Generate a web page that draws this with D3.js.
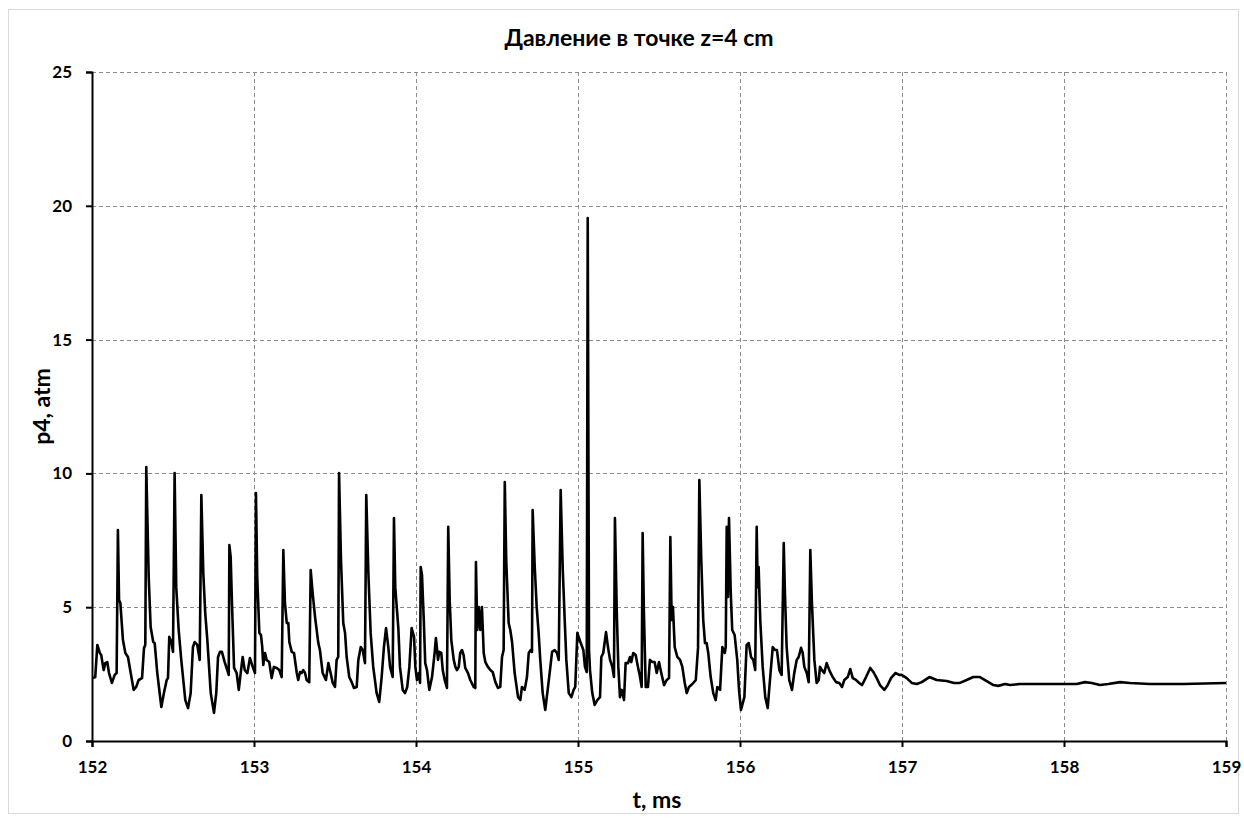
<!DOCTYPE html>
<html>
<head>
<meta charset="utf-8">
<script src="https://cdn.jsdelivr.net/npm/d3@7/dist/d3.min.js"></script>
<style>
  html, body { margin: 0; padding: 0; background: #fff; }
  svg { display: block; font-family: Lato, "Open Sans", "DejaVu Sans", sans-serif; }
</style>
</head>
<body>
<svg id="chart" width="1244" height="819"></svg>
<script>
// Pressure trace p4 at z = 4 cm
const timeMs = [
  152.006,152.020,152.033,152.048,152.057,152.072,152.082,152.094,152.105,152.123,
  152.140,152.152,152.160,152.167,152.175,152.191,152.206,152.222,152.239,152.257,
  152.273,152.288,152.309,152.321,152.329,152.335,152.350,152.362,152.378,152.387,
  152.403,152.428,152.444,152.461,152.469,152.477,152.490,152.500,152.510,152.520,
  152.535,152.551,152.576,152.593,152.609,152.623,152.634,152.650,152.665,152.675,
  152.687,152.699,152.712,152.733,152.753,152.767,152.778,152.790,152.802,152.819,
  152.835,152.844,152.848,152.856,152.864,152.877,152.893,152.906,152.918,152.930,
  152.943,152.959,152.975,152.992,153.006,153.012,153.020,153.033,153.043,153.051,
  153.057,153.068,153.078,153.094,153.109,153.123,153.140,153.156,153.171,153.181,
  153.191,153.202,153.212,153.218,153.233,153.247,153.264,153.273,153.284,153.294,
  153.304,153.315,153.325,153.341,153.350,153.362,153.377,153.397,153.407,153.424,
  153.444,153.459,153.473,153.486,153.500,153.510,153.520,153.525,153.537,153.551,
  153.562,153.572,153.588,153.603,153.617,153.634,153.644,153.659,153.671,153.685,
  153.693,153.706,153.720,153.736,153.757,153.773,153.788,153.802,153.815,153.829,
  153.840,153.856,153.864,153.872,153.881,153.891,153.901,153.918,153.932,153.946,
  153.959,153.973,153.988,153.996,154.006,154.017,154.025,154.029,154.037,154.048,
  154.057,154.068,154.082,154.099,154.115,154.123,154.136,154.144,154.156,154.165,
  154.177,154.191,154.199,154.208,154.218,154.233,154.243,154.253,154.264,154.273,
  154.284,154.294,154.304,154.321,154.335,154.356,154.366,154.370,154.378,154.387,
  154.397,154.407,154.418,154.428,154.444,154.459,154.473,154.490,154.506,154.520,
  154.531,154.541,154.548,154.557,154.572,154.582,154.593,154.609,154.630,154.644,
  154.654,154.671,154.685,154.696,154.708,154.716,154.720,154.733,154.745,154.757,
  154.767,154.782,154.798,154.815,154.825,154.840,154.856,154.870,154.881,154.893,
  154.906,154.918,154.928,154.943,154.959,154.973,154.983,154.996,155.017,155.033,
  155.043,155.054,155.060,155.068,155.074,155.088,155.103,155.119,155.136,155.144,
  155.156,155.173,155.185,155.198,155.212,155.222,155.228,155.239,155.249,155.259,
  155.270,155.284,155.294,155.309,155.321,155.329,155.341,155.356,155.370,155.383,
  155.393,155.399,155.407,155.418,155.432,155.444,155.459,155.473,155.486,155.500,
  155.514,155.531,155.548,155.562,155.570,155.578,155.586,155.597,155.613,155.630,
  155.644,155.659,155.671,155.685,155.706,155.727,155.741,155.749,155.761,155.773,
  155.784,155.794,155.804,155.819,155.835,155.850,155.860,155.877,155.891,155.906,
  155.912,155.918,155.926,155.932,155.943,155.952,155.967,155.983,155.994,156.006,
  156.027,156.041,156.054,156.068,156.082,156.094,156.103,156.109,156.115,156.125,
  156.140,156.156,156.171,156.185,156.202,156.216,156.228,156.243,156.257,156.270,
  156.278,156.288,156.304,156.321,156.335,156.350,156.362,156.377,156.387,156.397,
  156.412,156.424,156.434,156.444,156.459,156.473,156.486,156.494,156.506,156.520,
  156.535,156.551,156.572,156.593,156.613,156.630,156.644,156.665,156.681,156.696,
  156.716,156.736,156.753,156.778,156.804,156.823,156.844,156.864,156.891,156.912,
  156.932,156.959,156.983,156.998,157.029,157.060,157.091,157.122,157.169,157.214,
  157.276,157.321,157.358,157.399,157.440,157.481,157.523,157.564,157.594,157.636,
  157.667,157.728,157.810,157.914,158.017,158.078,158.130,158.171,158.222,158.273,
  158.346,158.407,158.531,158.736,159.000
];

const pressureAtm = [
  2.35,2.39,3.59,3.29,3.21,2.65,2.91,2.95,2.54,2.17,
  2.47,2.54,7.88,5.27,5.16,3.77,3.29,3.14,2.54,1.91,
  2.02,2.28,2.35,3.48,3.59,10.24,6.13,4.26,3.70,3.66,
  2.54,1.27,1.79,2.28,2.35,3.89,3.70,3.33,10.01,5.75,
  4.15,3.03,1.53,1.23,1.79,3.51,3.70,3.59,3.03,9.19,
  6.28,4.78,3.77,1.79,1.05,1.79,3.14,3.33,3.33,2.95,
  2.65,2.47,7.32,6.88,5.16,2.73,2.54,1.91,2.54,3.14,
  2.65,2.54,3.10,2.77,2.54,9.27,6.13,4.04,3.96,3.51,
  2.84,3.29,3.03,2.95,2.35,2.77,2.73,2.65,2.39,7.14,
  5.16,4.41,4.41,3.70,3.33,3.29,2.54,2.28,2.58,2.54,
  2.65,2.54,2.28,2.20,6.39,5.53,4.63,3.66,3.40,2.54,
  2.28,2.91,2.54,2.17,2.02,3.03,3.14,10.01,6.76,4.41,
  4.04,3.14,2.39,2.20,1.98,2.02,3.03,3.51,3.40,2.91,
  9.19,6.28,4.04,2.77,1.79,1.46,2.39,3.51,4.22,3.51,
  2.77,2.39,8.33,5.75,5.01,4.22,2.77,1.91,1.79,2.02,
  2.77,4.22,3.89,2.77,2.28,2.54,2.17,6.50,6.20,4.52,
  2.91,2.65,1.91,2.39,3.29,3.85,3.03,3.33,3.29,2.65,
  2.28,1.98,8.00,5.27,3.77,3.03,2.77,2.65,2.77,3.29,
  3.40,3.21,2.73,2.54,2.28,2.02,1.98,6.69,4.15,5.01,
  4.15,5.01,3.29,2.95,2.77,2.65,2.58,2.20,1.98,2.02,
  3.14,3.40,9.68,6.76,4.41,4.15,3.70,2.54,1.64,1.53,
  2.02,1.91,2.39,3.29,3.40,3.33,8.63,6.50,5.01,4.04,
  3.03,1.79,1.16,2.02,2.54,3.33,3.40,3.29,3.03,9.38,
  6.39,4.52,3.03,1.79,1.64,1.91,2.02,4.04,3.66,3.40,
  2.77,2.58,19.54,3.40,2.65,1.79,1.35,1.53,1.64,3.14,
  3.29,4.07,3.51,3.03,2.77,2.39,8.33,4.90,2.77,1.64,
  1.91,1.53,2.91,2.91,3.14,2.95,3.29,3.21,2.77,2.39,
  2.02,7.77,4.78,2.02,2.02,3.03,2.95,2.95,2.54,2.95,
  2.54,2.09,2.28,2.35,7.62,4.52,5.01,3.51,3.14,3.03,
  2.77,2.17,1.79,2.02,2.13,2.28,3.48,9.75,6.76,4.52,
  3.66,3.66,3.29,2.39,1.79,1.53,2.02,1.91,3.51,3.29,
  3.51,8.00,5.38,8.33,5.53,4.15,3.96,3.03,1.91,1.16,
  1.64,3.59,3.66,3.14,3.03,2.65,8.00,5.75,6.50,4.52,
  2.77,1.64,1.23,2.28,3.51,3.40,3.40,2.65,2.47,7.40,
  5.38,3.51,2.28,1.91,2.54,3.03,3.14,3.48,3.29,2.77,
  2.54,2.20,7.14,5.16,3.03,2.17,2.28,2.77,2.65,2.54,
  2.91,2.65,2.39,2.20,2.17,2.02,2.28,2.39,2.69,2.35,
  2.28,2.17,2.09,2.39,2.73,2.58,2.35,2.09,1.91,2.09,
  2.35,2.54,2.47,2.47,2.35,2.17,2.13,2.20,2.39,2.28,
  2.24,2.17,2.17,2.28,2.39,2.39,2.24,2.09,2.06,2.13,
  2.09,2.13,2.13,2.13,2.13,2.13,2.20,2.17,2.09,2.13,
  2.20,2.17,2.13,2.13,2.17
];

const xTicks = [152, 153, 154, 155, 156, 157, 158, 159];
const yTicks = [0, 5, 10, 15, 20, 25];

const titleText = "Давление в точке z=4 cm";
const xTitle = "t, ms";
const yTitle = "p4, atm";

const svg = d3.select("#chart");
const W = 1244, H = 819;
const margin = { left: 92, right: 18, top: 72, bottom: 78 };
const plotW = W - margin.left - margin.right;
const plotH = H - margin.top - margin.bottom;

// outer chart frame
svg.append("rect")
  .attr("x", 8.5).attr("y", 9.5)
  .attr("width", 1230).attr("height", 804)
  .attr("fill", "#fff")
  .attr("stroke", "#d9d9d9")
  .attr("stroke-width", 1);

const x = d3.scaleLinear().domain([152, 159]).range([0, plotW]);
const y = d3.scaleLinear().domain([0, 25]).range([plotH, 0]);

const g = svg.append("g").attr("transform", `translate(${margin.left},${margin.top})`);

// dashed gridlines
g.append("g")
  .selectAll("line.hg")
  .data(yTicks.filter(v => v > 0))
  .join("line")
  .attr("x1", 0).attr("x2", plotW)
  .attr("y1", d => Math.round(y(d)) + 0.5).attr("y2", d => Math.round(y(d)) + 0.5)
  .attr("stroke", "#8c8c8c").attr("stroke-width", 1)
  .attr("stroke-dasharray", "4,3");

g.append("g")
  .selectAll("line.vg")
  .data(xTicks.filter(v => v > 152))
  .join("line")
  .attr("x1", d => Math.round(x(d)) + 0.5).attr("x2", d => Math.round(x(d)) + 0.5)
  .attr("y1", 0).attr("y2", plotH)
  .attr("stroke", "#8c8c8c").attr("stroke-width", 1)
  .attr("stroke-dasharray", "4,3");

// pressure line
const series = timeMs.map((t, i) => [t, pressureAtm[i]]);
const line = d3.line().x(d => x(d[0])).y(d => y(d[1]));
g.append("path")
  .datum(series)
  .attr("fill", "none")
  .attr("stroke", "#000")
  .attr("stroke-width", 2.6)
  .attr("stroke-linejoin", "round")
  .attr("d", line);

// axes
const xAxis = d3.axisBottom(x).tickValues(xTicks).tickSize(6).tickPadding(14).tickFormat(d3.format("d"));
const yAxis = d3.axisLeft(y).tickValues(yTicks).tickSize(6).tickPadding(14).tickFormat(d3.format("d"));

const gx = g.append("g").attr("transform", `translate(0,${plotH})`).call(xAxis);
const gy = g.append("g").call(yAxis);

[gx, gy].forEach(ax => {
  ax.select(".domain").attr("stroke", "#000").attr("stroke-width", 2);
  ax.selectAll(".tick line").attr("stroke", "#000").attr("stroke-width", 2);
  ax.selectAll(".tick text")
    .attr("fill", "#000")
    .style("font-family", "Lato, 'Open Sans', sans-serif")
    .style("font-size", "17px")
    .style("font-weight", "bold");
});

// titles
svg.append("text")
  .attr("x", 639).attr("y", 46)
  .attr("text-anchor", "middle")
  .style("font-size", "23px").style("font-weight", "bold")
  .text(titleText);

svg.append("text")
  .attr("x", 657).attr("y", 808)
  .attr("text-anchor", "middle")
  .style("font-size", "23px").style("font-weight", "bold")
  .text(xTitle);

svg.append("text")
  .attr("transform", `translate(50,${margin.top + plotH / 2}) rotate(-90)`)
  .attr("text-anchor", "middle")
  .style("font-size", "23px").style("font-weight", "bold")
  .text(yTitle);
</script>
</body>
</html>
